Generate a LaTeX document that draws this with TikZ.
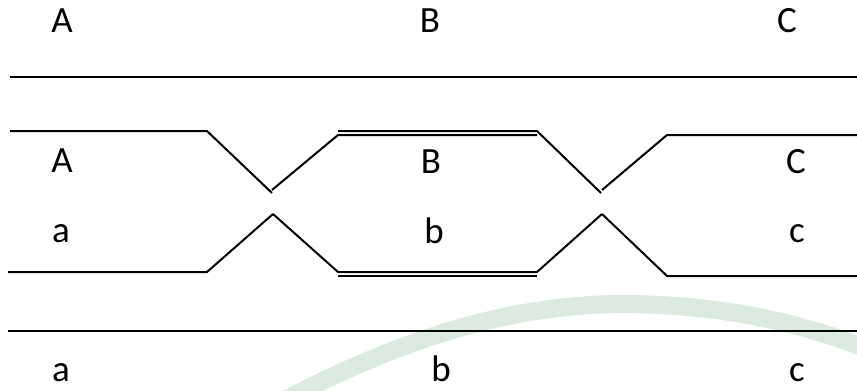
\documentclass[tikz,border=0pt]{standalone}
\usepackage{fontspec}
\setmainfont{Carlito}
\begin{document}
\begin{tikzpicture}[x=1pt,y=-1pt,
  chrom/.style={line width=2pt,black},
  band/.style={line width=2.6pt,black},
  gene/.style={inner sep=0pt,anchor=base,font=\fontsize{37}{40}\selectfont}]
\useasboundingbox (0,0) rectangle (857,391);
\clip (0,0) rectangle (857,391);
\definecolor{wmgreen}{RGB}{219,235,224}

% faint background swash
\draw[wmgreen,line width=18pt]
  (285,400) .. controls (390,345) and (500,305) .. (620,304)
            .. controls (720,304) and (800,322) .. (875,352);

% gene labels
\node[gene] (A1) at (62,32)  {A};
\node[gene] (B1) at (430,32) {B};
\node[gene] (C1) at (787,32) {C};
\node[gene] (A2) at (62,172)  {A};
\node[gene] (B2) at (431,173) {B};
\node[gene] (C2) at (796,173) {C};
\node[gene] (a2) at (61,242)  {a};
\node[gene] (b2) at (434,243) {b};
\node[gene] (c2) at (797,242) {c};
\node[gene] (a3) at (61,381)  {a};
\node[gene] (b3) at (441,381) {b};
\node[gene] (c3) at (797,381) {c};

% end points of the strands
\coordinate (t0) at (10,77);   \coordinate (t1) at (857,77);
\coordinate (tb0) at (340,77); \coordinate (tb1) at (538,77);
\coordinate (s0) at (8,331);   \coordinate (s1) at (857,331);
\coordinate (sb0) at (340,331);\coordinate (sb1) at (536,331);

% upper chromatid (non-crossed)
\draw[chrom] (t0) -- (t1);
\draw[band]  (tb0) -- (tb1);

% lower chromatid (non-crossed)
\draw[chrom] (s0) -- (s1);
\draw[band]  (sb0) -- (sb1);

% crossed-over chromatid, upper strand
\coordinate (u0) at (10,131);  \coordinate (u1) at (207,131);
\coordinate (ux) at (272,193); \coordinate (uy) at (272,190);
\coordinate (u2) at (338,135); \coordinate (u2b) at (338,131);
\coordinate (u3) at (537,135); \coordinate (u3b) at (537,131);
\coordinate (uz) at (601,193); \coordinate (uw) at (602,190);
\coordinate (u4) at (667,135); \coordinate (u5) at (857,135);
\draw[chrom] (u0) -- (u1) -- (ux);
\draw[chrom] (uy) -- (u2) -- (u3);
\draw[chrom] (u2b) -- (u3b) -- (uz);
\draw[chrom] (uw) -- (u4) -- (u5);

% crossed-over chromatid, lower strand
\coordinate (l0) at (8,272);   \coordinate (l1) at (207,272);
\coordinate (lx) at (273,214);
\coordinate (l2) at (338,276); \coordinate (l2b) at (338,272);
\coordinate (l3) at (537,276); \coordinate (l3b) at (537,272);
\coordinate (lz) at (602,214);
\coordinate (l4) at (667,276); \coordinate (l5) at (857,276);
\draw[chrom] (l0) -- (l1) -- (lx);
\draw[chrom] (lx) -- (l2b) -- (l3b) -- (lz);
\draw[chrom] (l2) -- (l3);
\draw[chrom] (lz) -- (l4) -- (l5);
\end{tikzpicture}
\end{document}
